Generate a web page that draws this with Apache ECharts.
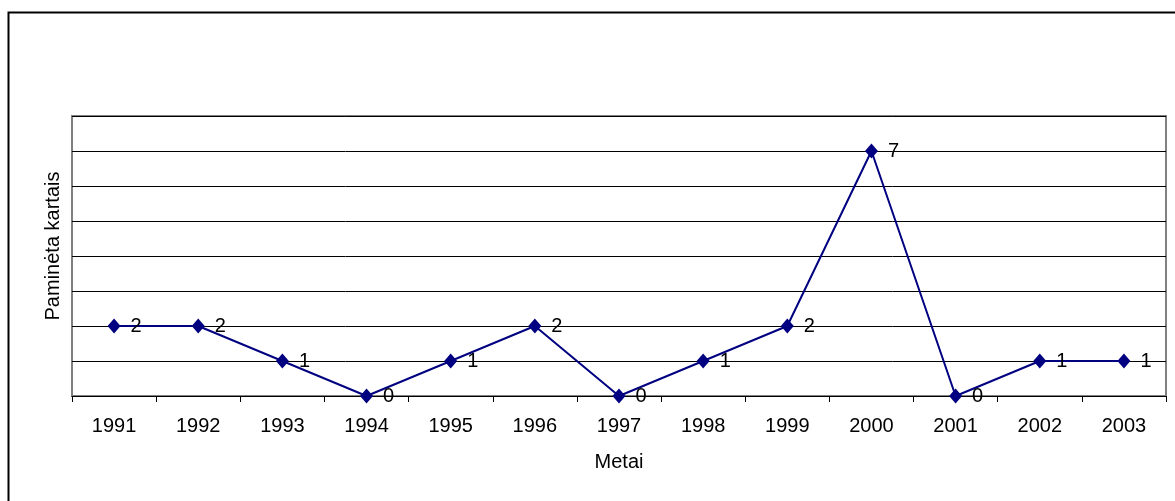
<!DOCTYPE html>
<html>
<head>
<meta charset="utf-8">
<script src="https://cdn.jsdelivr.net/npm/echarts@6/dist/echarts.min.js"></script>
<style>
  html, body { margin: 0; padding: 0; background: #fff; }
  #chart { width: 1175px; height: 501px; }
</style>
</head>
<body>
<div id="chart"></div>
<script>
// data
const years = ['1991', '1992', '1993', '1994', '1995', '1996', '1997', '1998', '1999', '2000', '2001', '2002', '2003']
const mentions = [2, 2, 1, 0, 1, 2, 0, 1, 2, 7, 0, 1, 1]

const font = 'Liberation Sans, Arial, sans-serif'
const navy = '#000080'

const chart = echarts.init(document.getElementById('chart'))

chart.setOption({
  animation: false,
  textStyle: { fontFamily: font },
  // outer chart frame, cut off at right and bottom
  graphic: [
    {
      type: 'rect',
      shape: { x: 8.5, y: 12.5, width: 1200, height: 520 },
      style: { fill: 'none', stroke: '#000', lineWidth: 2 },
      z: -1,
    },
  ],
  grid: {
    left: 72,
    right: 9,
    top: 116,
    bottom: 105,
    show: true,
    borderColor: '#808080',
    borderWidth: 2,
    backgroundColor: '#fff',
  },
  xAxis: {
    type: 'category',
    data: years,
    boundaryGap: true,
    name: 'Metai',
    nameLocation: 'middle',
    nameGap: 56,
    nameTextStyle: { fontSize: 20, color: '#000', fontFamily: font },
    axisLine: { lineStyle: { color: '#000', width: 1 } },
    axisTick: { show: true, alignWithLabel: false, length: 6, lineStyle: { color: '#000' } },
    axisLabel: { fontSize: 20, color: '#000', margin: 20, fontFamily: font },
  },
  yAxis: {
    type: 'value',
    min: 0,
    max: 8,
    interval: 1,
    name: 'Paminėta kartais',
    nameLocation: 'middle',
    nameGap: 9,
    nameTextStyle: { fontSize: 20, color: '#000', fontFamily: font, padding: [0, 0, 0, 20] },
    axisLine: { show: false },
    axisTick: { show: false },
    axisLabel: { show: false },
    splitLine: { lineStyle: { color: '#000', width: 1 } },
  },
  series: [
    {
      type: 'line',
      data: mentions,
      symbol: 'diamond',
      symbolSize: [13, 15],
      lineStyle: { color: navy, width: 2 },
      itemStyle: { color: navy },
      label: {
        show: true,
        position: 'right',
        distance: 10,
        fontSize: 20,
        color: '#000',
        fontFamily: font,
      },
    },
  ],
})
</script>
</body>
</html>
